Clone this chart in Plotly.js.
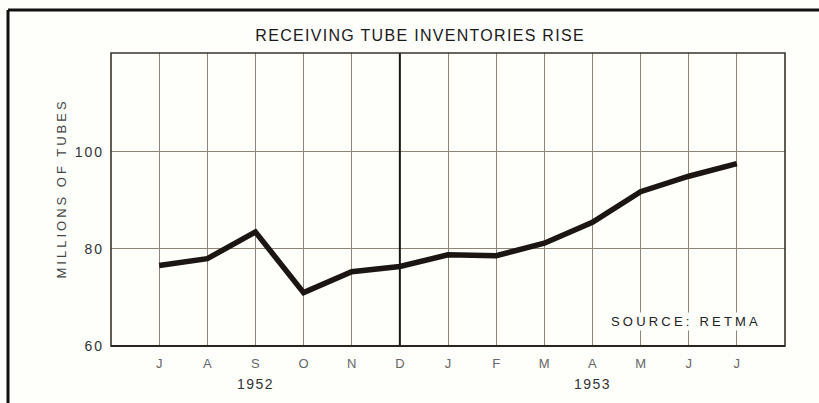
<!DOCTYPE html>
<html>
<head>
<meta charset="utf-8">
<script src="https://cdn.plot.ly/plotly-3.0.1.min.js"></script>
<style>html,body{margin:0;padding:0;background:#fefefb;}</style>
</head>
<body>
<div id="chart" style="width:819px;height:403px;"></div>
<script>
// Data
const months = ["J","A","S","O","N","D","J","F","M","A","M","J","J"];
const inventories = [76.6, 78.0, 83.5, 71.0, 75.3, 76.4, 78.8, 78.6, 81.2, 85.5, 91.8, 95.0, 97.6];
const yearLabels = ["1952", "1953"];
const yearPositions = [2, 9];
const yTicks = [60, 80, 100];

const xIdx = months.map((m, i) => i);
const F = "Liberation Sans, Arial, sans-serif";
const sp = (t, s) => '<span style="letter-spacing:' + s + 'px">' + t + '</span>';

const trace = {
  x: xIdx, y: inventories, type: "scatter", mode: "lines",
  line: {color: "#1b1611", width: 5.5}, hoverinfo: "skip"
};

const annotations = yearLabels.map((t, i) => ({
  x: yearPositions[i], xref: "x", y: -0.13, yref: "paper", yanchor: "middle",
  text: sp(t, 1.5), showarrow: false, font: {family: F, size: 14, color: "#333"}
}));
annotations.push({
  x: -0.0875, xref: "paper", y: 0.536, yref: "paper", textangle: -90,
  text: sp("MILLIONS OF TUBES", 3), showarrow: false,
  font: {family: F, size: 13, color: "#444"}
});
annotations.push({
  x: 10.94, xref: "x", y: 0.085, yref: "paper", yanchor: "middle",
  text: sp("SOURCE: RETMA", 3.2), showarrow: false, bgcolor: "#fefefb",
  font: {family: F, size: 13, color: "#222"}, borderpad: 1
});

const shapes = [
  // outer frame (left and top)
  {type: "line", xref: "paper", yref: "paper", x0: -0.1528, x1: -0.1528, y0: 1.1468, y1: -0.2, line: {color: "#111", width: 3}},
  {type: "line", xref: "paper", yref: "paper", x0: -0.1528, x1: 1.2, y0: 1.1468, y1: 1.1468, line: {color: "#111", width: 3}},
  // divider at D (end of 1952)
  {type: "line", xref: "x", yref: "paper", x0: 5, x1: 5, y0: 0, y1: 1, line: {color: "#1a1510", width: 2}},
  // plot frame
  {type: "rect", xref: "paper", yref: "paper", x0: 0, x1: 1, y0: 0, y1: 1, line: {color: "#3a342c", width: 1.6}},
  // bottom axis line
  {type: "line", xref: "paper", yref: "paper", x0: 0, x1: 1, y0: 0, y1: 0, line: {color: "#2a251f", width: 2}}
];

const layout = {
  width: 819, height: 403,
  paper_bgcolor: "#fefefb", plot_bgcolor: "#fefefb",
  margin: {l: 111, r: 34, t: 53, b: 57},
  showlegend: false,
  title: {
    text: sp("RECEIVING TUBE INVENTORIES RISE", 1.3),
    x: 0.513, xref: "container", xanchor: "center",
    y: 0.913, yref: "container", yanchor: "middle",
    font: {family: F, size: 16, color: "#1a1a1a"}
  },
  xaxis: {
    range: [-1, 13], tickvals: xIdx, ticktext: months,
    showgrid: true, gridcolor: "#8d8475", gridwidth: 1,
    zeroline: false, showline: false, ticks: "", ticklabelstandoff: 8,
    tickfont: {family: F, size: 13, color: "#666"},
    fixedrange: true
  },
  yaxis: {
    range: [60, 120.4], tickvals: yTicks, ticktext: yTicks.map(v => sp(String(v), 2)),
    showgrid: true, gridcolor: "#8d8475", gridwidth: 1,
    zeroline: false, showline: false, ticks: "", ticklabelstandoff: 6,
    tickfont: {family: F, size: 14, color: "#333"},
    fixedrange: true
  },
  annotations: annotations,
  shapes: shapes
};

Plotly.newPlot("chart", [trace], layout, {displayModeBar: false, staticPlot: true});
</script>
</body>
</html>
